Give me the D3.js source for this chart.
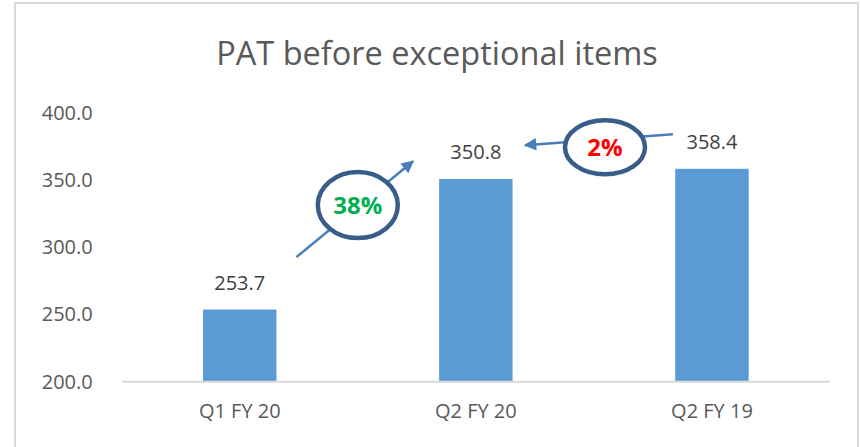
<!DOCTYPE html>
<meta charset="utf-8">
<style>
  body { margin: 0; background: #fff; }
  svg { display: block; font-family: "Open Sans", sans-serif; }
</style>
<svg width="861" height="447"></svg>
<script src="https://d3js.org/d3.v7.min.js"></script>
<script>
// values
var categories = ["Q1 FY 20", "Q2 FY 20", "Q2 FY 19"];
var values = [253.7, 350.8, 358.4];
var yTicks = [200, 250, 300, 350, 400];
var title = "PAT before exceptional items";

// growth call-outs, placed in data space (category index, value)
var growthLabels = ["38%", "2%"];
var growthColors = ["#00b050", "#ff0000"];
var arrowFrom = [[0.24, 292.7], [1.835, 384.2]];
var arrowTo = [[0.734, 364], [1.208, 376]];
var bubbleAt = [[0.5, 331.4], [1.547, 374.5]];

var svg = d3.select("svg"),
    margin = {top: 112.9, right: 31, bottom: 65.3, left: 121.7},
    width = +svg.attr("width") - margin.left - margin.right,
    height = +svg.attr("height") - margin.top - margin.bottom;

// chart frame
svg.append("rect")
    .attr("x", 15).attr("y", 3)
    .attr("width", 843).attr("height", 460)
    .attr("fill", "none")
    .attr("stroke", "#d9d9d9")
    .attr("stroke-width", 2);

svg.append("text")
    .attr("x", 437).attr("y", 65)
    .attr("text-anchor", "middle")
    .attr("fill", "#595959")
    .style("font-size", "32.5px")
    .text(title);

var g = svg.append("g").attr("transform", "translate(" + margin.left + "," + margin.top + ")");

var x = d3.scaleBand()
    .domain(categories)
    .range([0, width])
    .paddingInner(0.689)
    .paddingOuter(0.3445);

var y = d3.scaleLinear()
    .domain([200, 400])
    .range([height, 0]);

// index scale for the call-outs
var xi = d3.scaleLinear()
    .domain([0, categories.length - 1])
    .range([x(categories[0]) + x.bandwidth() / 2, x(categories[categories.length - 1]) + x.bandwidth() / 2]);

var yAxis = g.append("g")
    .call(d3.axisLeft(y).tickValues(yTicks).tickSize(0).tickPadding(29).tickFormat(d3.format(".1f")));
yAxis.select(".domain").remove();
yAxis.selectAll("text")
    .attr("fill", "#595959")
    .style("font-size", "20px")
    .style("font-family", "Open Sans, sans-serif");

var xAxis = g.append("g")
    .attr("transform", "translate(0," + height + ")")
    .call(d3.axisBottom(x).tickSize(0).tickPadding(22));
xAxis.select(".domain").remove();
xAxis.selectAll("text")
    .attr("fill", "#595959")
    .style("font-size", "20px")
    .style("font-family", "Open Sans, sans-serif");

g.selectAll(".bar")
    .data(values)
    .enter().append("rect")
    .attr("class", "bar")
    .attr("x", function(d, i) { return x(categories[i]); })
    .attr("y", function(d) { return y(d); })
    .attr("width", x.bandwidth())
    .attr("height", function(d) { return height - y(d); })
    .attr("fill", "#5b9bd5");

g.append("line")
    .attr("x1", 0).attr("x2", width)
    .attr("y1", height).attr("y2", height)
    .attr("stroke", "#d9d9d9")
    .attr("stroke-width", 2);

g.selectAll(".value")
    .data(values)
    .enter().append("text")
    .attr("class", "value")
    .attr("x", function(d, i) { return x(categories[i]) + x.bandwidth() / 2; })
    .attr("y", function(d) { return y(d) - 20; })
    .attr("text-anchor", "middle")
    .attr("fill", "#404040")
    .style("font-size", "20px")
    .text(function(d) { return d.toFixed(1); });

// arrows
svg.append("defs").append("marker")
    .attr("id", "head")
    .attr("viewBox", "0 0 10 10")
    .attr("refX", 9).attr("refY", 5)
    .attr("markerWidth", 6).attr("markerHeight", 5)
    .attr("markerUnits", "strokeWidth")
    .attr("orient", "auto")
    .append("path")
    .attr("d", "M0,0L10,5L0,10z")
    .attr("fill", "#4a7ebb");

g.selectAll(".arrow")
    .data(growthLabels)
    .enter().append("line")
    .attr("class", "arrow")
    .attr("x1", function(d, i) { return xi(arrowFrom[i][0]); })
    .attr("y1", function(d, i) { return y(arrowFrom[i][1]); })
    .attr("x2", function(d, i) { return xi(arrowTo[i][0]); })
    .attr("y2", function(d, i) { return y(arrowTo[i][1]); })
    .attr("stroke", "#4a7ebb")
    .attr("stroke-width", 2.5)
    .attr("marker-end", "url(#head)");

var bubble = g.selectAll(".bubble")
    .data(growthLabels)
    .enter().append("g")
    .attr("class", "bubble")
    .attr("transform", function(d, i) { return "translate(" + xi(bubbleAt[i][0]) + "," + y(bubbleAt[i][1]) + ")"; });

bubble.append("ellipse")
    .attr("rx", 40)
    .attr("ry", function(d, i) { return i == 0 ? 33 : 27; })
    .attr("fill", "#fff")
    .attr("stroke", "#385d8a")
    .attr("stroke-width", 4.5);

bubble.append("text")
    .attr("text-anchor", "middle")
    .attr("dy", "0.36em")
    .attr("fill", function(d, i) { return growthColors[i]; })
    .style("font-size", "24px")
    .style("font-weight", "bold")
    .text(function(d) { return d; });
</script>
